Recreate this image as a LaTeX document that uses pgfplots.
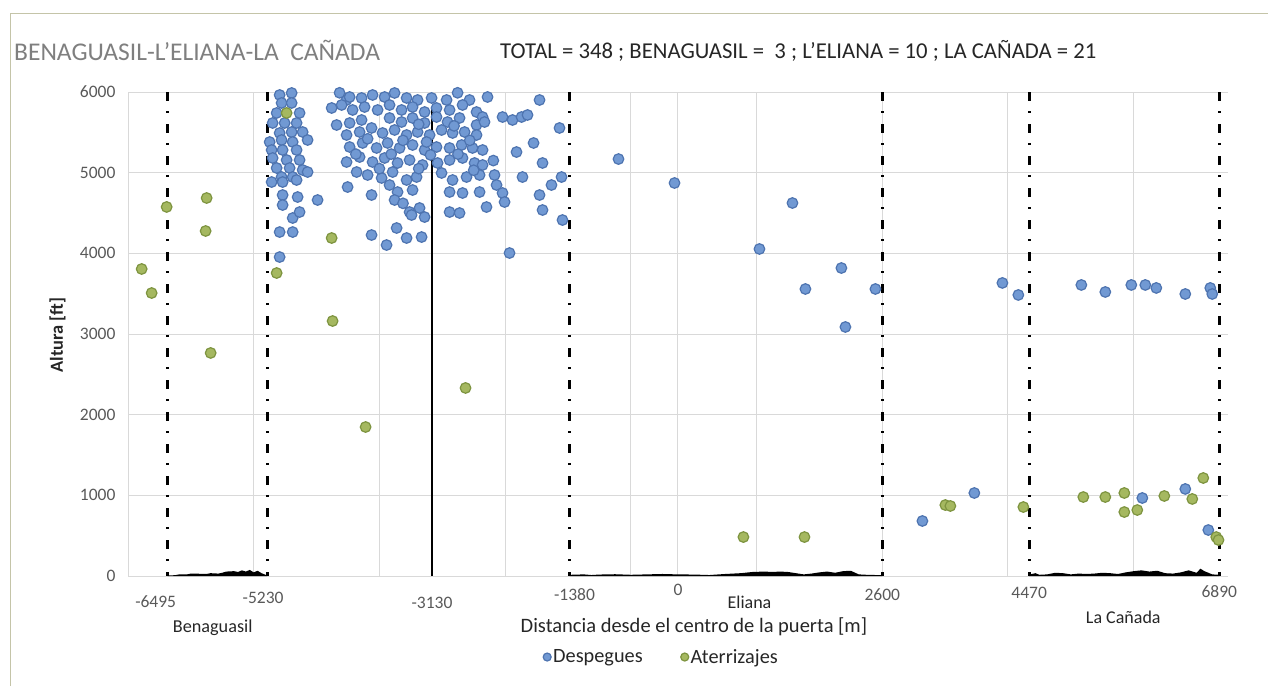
\documentclass[border=0pt]{standalone}
\usepackage{pgfplots}
\pgfplotsset{compat=1.18}
\usepackage{fontspec}
\setmainfont{Carlito}
\definecolor{despfill}{HTML}{7199D3}
\definecolor{despdraw}{HTML}{4E74B0}
\definecolor{aterfill}{HTML}{A5B860}
\definecolor{aterdraw}{HTML}{7E9440}
\definecolor{gridgray}{HTML}{D9D9D9}
\definecolor{ticktext}{HTML}{595959}
\definecolor{titlegray}{HTML}{7F7F7F}
\definecolor{darktext}{HTML}{262626}
\definecolor{framecol}{HTML}{C4C4A8}
\newcommand\fs[1]{\fontsize{#1}{#1}\selectfont}
\pgfplotsset{smallmarklegend/.style={legend image code/.code={\draw[##1, mark size=4pt] plot coordinates {(0pt,0pt)};}}}
\begin{document}
\begin{tikzpicture}[x=1pt,y=1pt]
\path[use as bounding box] (0,0) rectangle (1268,686);
\draw[framecol, line width=1.5pt] (10.5,0) -- (10.5,672.5) -- (1268,672.5);
\node[anchor=west, inner sep=0pt, text=titlegray, font=\fs{25.5}] at (14,636) {BENAGUASIL-L'ELIANA-LA\ \ CAÑADA};
\node[anchor=west, inner sep=0pt, text=darktext, font=\fs{22.7}] at (500,635) {TOTAL = 348 ; BENAGUASIL =\ \ 3 ; L'ELIANA = 10 ; LA CAÑADA = 21};
\node[rotate=90, text=darktext, font=\fs{18.4}\bfseries] at (57.5,351) {Altura [ft]};
\begin{axis}[
  at={(128pt,110pt)}, anchor=south west,
  scale only axis, width=1100pt, height=484pt,
  xmin=-7000, xmax=7000, ymin=0, ymax=6000,
  clip=false,
  axis x line*=bottom, axis y line*=left,
  axis line style={draw=gridgray, line width=1pt},
  major tick length=0pt,
  xtick={-7000,-5400,-3800,-2200,-600,0,1000,2600,4200,5800},
  xticklabels={,,,,,,,,,},
  extra x ticks={-6495,-5230,-3130,-1380,0,2600,4470,6890},
  extra x tick labels={
    \raisebox{-12pt}{-6495}\kern24pt,
    \raisebox{-8pt}{-5230}\kern8pt,
    \raisebox{-13pt}{-3130},
    \kern10pt\raisebox{-5pt}{-1380},
    0,
    \raisebox{-5pt}{2600},
    \raisebox{-3pt}{4470},
    \raisebox{-2pt}{6890}},
  extra x tick style={grid=none},
  xticklabel style={font=\fs{17.5}, text=ticktext, anchor=base, yshift=-19.5pt},
  ytick={0,1000,2000,3000,4000,5000,6000},
  yticklabels={0,1000,2000,3000,4000,5000,6000},
  yticklabel style={font=\fs{17.5}, text=ticktext, xshift=-9pt},
  xmajorgrids, ymajorgrids,
  grid style={draw=gridgray, line width=1pt},
  xlabel={Distancia desde el centro de la puerta [m]},
  xlabel style={at={(axis description cs:0.5145,-0.105)}, anchor=center, font=\fs{20.5}, text=darktext},
  legend style={at={(axis description cs:0.485,-0.1674)}, anchor=center, draw=none, fill=none,
    font=\fs{20.3}, text=darktext, legend columns=2,
    /tikz/every even column/.append style={column sep=36pt}},
  legend cell align=left,
]
% ground profiles
\addplot[fill=black, draw=none, forget plot] coordinates {
(-6495,0) (-6470,8) (-6400,10) (-6350,20) (-6250,20) (-6200,30) (-6100,28) (-6000,25) (-5950,35) (-5850,30) (-5800,40) (-5750,55) (-5650,60) (-5600,50) (-5550,70) (-5500,55) (-5450,75) (-5400,45) (-5350,65) (-5300,35) (-5250,15) (-5230,0)} \closedcycle;
\addplot[fill=black, draw=none, forget plot] coordinates {
(-1380,0) (-1370,15) (-1200,20) (-1100,12) (-1000,18) (-800,22) (-600,15) (-400,20) (-200,25) (0,20) (200,18) (400,12) (600,25) (800,35) (950,50) (1100,55) (1200,50) (1300,55) (1400,50) (1500,35) (1600,20) (1700,30) (1800,45) (1900,55) (2000,40) (2100,60) (2200,65) (2300,20) (2400,15) (2600,10) (2600,0)} \closedcycle;
\addplot[fill=black, draw=none, forget plot] coordinates {
(4470,0) (4480,20) (4550,35) (4600,15) (4700,20) (4800,40) (4900,35) (5000,20) (5100,30) (5200,25) (5300,30) (5400,40) (5500,35) (5600,25) (5700,45) (5800,60) (5900,70) (6000,55) (6100,65) (6200,35) (6300,30) (6400,45) (6500,70) (6600,40) (6650,90) (6700,60) (6800,20) (6890,15) (6890,0)} \closedcycle;
% solid line
\addplot[black, line width=1.8pt, forget plot] coordinates {(-3130,0) (-3130,5800)};
% Despegues
\addplot[only marks, mark=*, mark size=5.3pt, mark options={fill=despfill, draw=despdraw, line width=1.2pt}, smallmarklegend] table {
x y
-5070 5963
-4917 5988
-5045 5864
-4917 5864
-4816 5740
-5108 5740
-5159 5616
-5006 5616
-4854 5616
-5070 5492
-4917 5504
-4777 5504
-5197 5380
-5045 5405
-4904 5380
-4714 5405
-5172 5281
-5032 5281
-4854 5281
-5159 5182
-4981 5157
-4816 5157
-5108 5058
-4943 5058
-4777 5033
-4714 5008
-5045 4946
-4904 4946
-5172 4884
-5032 4884
-4854 4909
-5032 4723
-4841 4698
-5032 4599
-4904 4438
-4816 4512
-5070 4264
-4904 4264
-5070 3954
-4587 4661
-4345 5591
-4205 4822
-4408 5802
-4218 5901
-4307 5990
-4179 5938
-4027 5926
-3887 5963
-3734 5938
-3607 5988
-3454 5926
-3314 5901
-3136 5926
-2945 5901
-2805 5990
-2653 5901
-2424 5938
-1762 5901
-4281 5839
-4141 5777
-3989 5814
-3823 5777
-3671 5839
-3518 5777
-3378 5814
-3225 5752
-3073 5802
-2907 5777
-2742 5839
-2564 5752
-2487 5690
-4179 5616
-4027 5653
-3671 5678
-3518 5628
-3378 5678
-3225 5616
-3073 5690
-2933 5628
-2780 5678
-2564 5591
-2462 5628
-2233 5690
-2106 5653
-1991 5690
-1915 5715
-1508 5554
-4218 5467
-4052 5504
-3900 5554
-3760 5492
-3607 5529
-3454 5467
-3314 5504
-3161 5467
-3009 5529
-2869 5492
-2716 5504
-2564 5467
-1838 5368
-4179 5318
-4014 5368
-3836 5306
-3696 5368
-3543 5306
-3378 5343
-3225 5281
-3073 5318
-2907 5306
-2754 5343
-2615 5306
-2487 5281
-2055 5256
-4218 5132
-4052 5194
-3887 5132
-3734 5182
-3569 5120
-3416 5157
-3251 5095
-3060 5120
-2907 5157
-2742 5182
-2589 5120
-2487 5095
-1724 5120
-4090 5008
-3950 4971
-3772 4934
-3632 5008
-3454 4909
-3327 4946
-3009 4996
-2869 4909
-2691 4946
-2525 4971
-2335 4971
-1979 4946
-1482 4946
-3900 4723
-3671 4847
-3569 4760
-3378 4785
-2907 4760
-2742 4748
-2525 4760
-2309 4847
-2233 4748
-1762 4723
-1610 4847
-3607 4661
-3416 4512
-3289 4562
-3225 4450
-2907 4512
-2780 4500
-2437 4574
-2207 4636
-1724 4537
-1470 4413
-3581 4314
-3709 4103
-3900 4227
-3454 4190
-3263 4202
-2144 4004
-3391 4475
-3300 5600
-2850 5580
-3500 5400
-3200 5380
-2650 5400
-3950 5420
-4100 5230
-3650 5230
-3150 5220
-2800 5230
-3800 5050
-3300 5050
-2600 5030
-3500 4620
-2350 5150
-757 5169
-44 4872
1457 4624
1037 4054
2080 3818
1622 3558
2513 3558
2131 3087
4129 3633
4332 3484
5134 3608
5439 3521
5770 3608
5948 3608
6088 3571
6457 3496
6775 3571
6800 3496
3111 682
3772 1029
5910 967
6457 1079
6750 570
};
\addlegendentry{Despegues}
% Aterrizajes
\addplot[only marks, mark=*, mark size=5.3pt, mark options={fill=aterfill, draw=aterdraw, line width=1.2pt}, smallmarklegend] table {
x y
-4981 5740
-6508 4575
-5999 4686
-6012 4277
-6826 3806
-6699 3508
-5948 2765
-4408 4190
-5108 3756
-4396 3161
-3976 1847
-2704 2331
833 483
1610 483
3403 880
3467 868
4396 855
5159 979
5439 979
5681 1029
5681 793
5846 818
6190 992
6546 955
6686 1215
6851 483
6880 446
};
\addlegendentry{Aterrizajes}
% dash-dot boundary lines
\addplot[black, line width=3pt, dash pattern=on 9pt off 10pt on 2pt off 11pt, forget plot] coordinates {(-6495,6000) (-6495,0)};
\addplot[black, line width=3pt, dash pattern=on 9pt off 10pt on 2pt off 11pt, forget plot] coordinates {(-5230,6000) (-5230,0)};
\addplot[black, line width=3pt, dash pattern=on 9pt off 10pt on 2pt off 11pt, forget plot] coordinates {(-1380,6000) (-1380,0)};
\addplot[black, line width=3pt, dash pattern=on 9pt off 10pt on 2pt off 11pt, forget plot] coordinates {(2600,6000) (2600,0)};
\addplot[black, line width=3pt, dash pattern=on 9pt off 10pt on 2pt off 11pt, forget plot] coordinates {(4470,6000) (4470,0)};
\addplot[black, line width=3pt, dash pattern=on 9pt off 10pt on 2pt off 11pt, forget plot] coordinates {(6890,6000) (6890,0)};
% place names
\node[font=\fs{18.2}, text=darktext] at (axis cs:-5922,-645) {Benaguasil};
\node[font=\fs{18}, text=darktext] at (axis cs:910,-322) {Eliana};
\node[font=\fs{18}, text=darktext] at (axis cs:5668,-508) {La Cañada};
\end{axis}
\end{tikzpicture}
\end{document}
